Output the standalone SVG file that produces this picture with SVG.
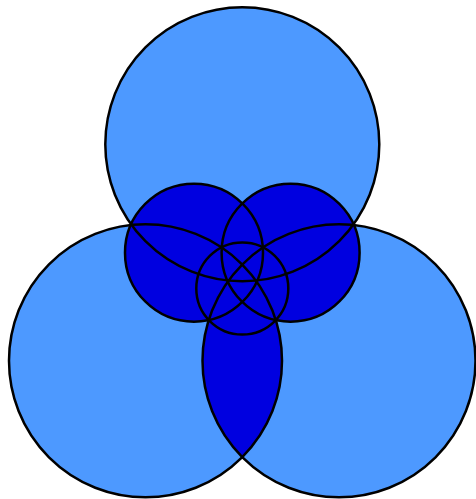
<svg xmlns="http://www.w3.org/2000/svg" width="476" height="499" viewBox="0 0 476 499">
  <style>
    .big { fill: #4d99ff; stroke: none; }
    .dark { fill: #0000e0; stroke: none; }
    .line { fill: none; stroke: #000; stroke-width: 2.5; }
  </style>
  <rect width="476" height="499" fill="#fff"/>
  <g id="fills">
    <circle id="top-circle" class="big" cx="242.3" cy="144.3" r="137"/>
    <circle id="left-circle" class="big" cx="145.5" cy="360.8" r="136.5"/>
    <circle id="right-circle" class="big" cx="339" cy="360.8" r="136.5"/>
    <path id="bottom-lens" class="dark" d="M 242.25 264.5 A 136.5 136.5 0 0 1 242.25 457.1 A 136.5 136.5 0 0 1 242.25 264.5 Z"/>
    <circle id="left-lens-circle" class="dark" cx="194" cy="252.7" r="69"/>
    <circle id="right-lens-circle" class="dark" cx="290.6" cy="252.7" r="69"/>
    <circle id="center-circle" class="dark" cx="242.3" cy="288.5" r="46"/>
  </g>
  <g id="outlines">
    <circle class="line" cx="242.3" cy="144.3" r="137"/>
    <circle class="line" cx="145.5" cy="360.8" r="136.5"/>
    <circle class="line" cx="339" cy="360.8" r="136.5"/>
    <circle class="line" cx="194" cy="252.7" r="69"/>
    <circle class="line" cx="290.6" cy="252.7" r="69"/>
    <circle class="line" cx="242.3" cy="288.5" r="46"/>
  </g>
</svg>
